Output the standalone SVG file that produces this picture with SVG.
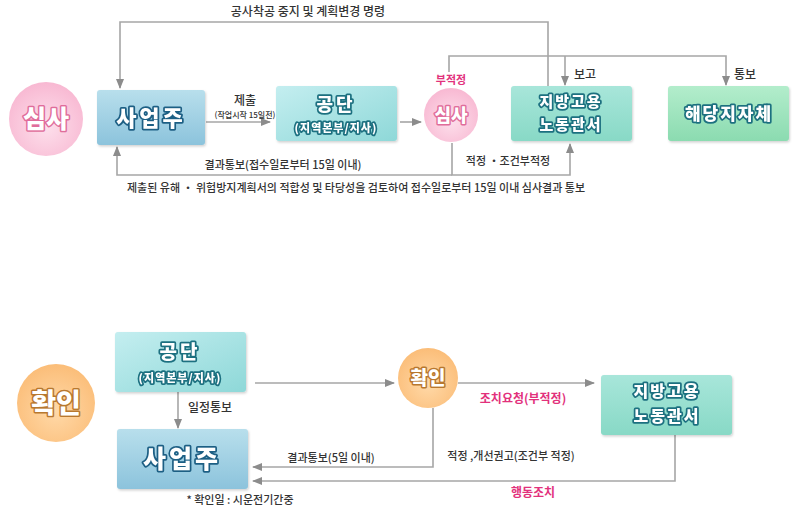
<svg xmlns="http://www.w3.org/2000/svg" width="800" height="519" viewBox="0 0 800 519">
<defs>
<linearGradient id="gBlue" x1="0" y1="0" x2="0" y2="1"><stop offset="0" stop-color="#b8dfec"/><stop offset="1" stop-color="#8cc3dc"/></linearGradient>
<linearGradient id="gTeal" x1="0" y1="0" x2="1" y2="1"><stop offset="0" stop-color="#c4eef0"/><stop offset="1" stop-color="#8ed8d8"/></linearGradient>
<linearGradient id="gMint" x1="0" y1="0" x2="0" y2="1"><stop offset="0" stop-color="#a8e6da"/><stop offset="1" stop-color="#88d9c6"/></linearGradient>
<linearGradient id="gGreen" x1="0" y1="0" x2="0" y2="1"><stop offset="0" stop-color="#b3edcc"/><stop offset="1" stop-color="#8bdbb0"/></linearGradient>
<radialGradient id="gPink" cx="0.5" cy="0.6" r="0.6"><stop offset="0" stop-color="#fde0ec"/><stop offset="1" stop-color="#f8b8d2"/></radialGradient>
<radialGradient id="gOrange" cx="0.5" cy="0.6" r="0.6"><stop offset="0" stop-color="#ffd9a8"/><stop offset="1" stop-color="#fbbd78"/></radialGradient>
<filter id="sh" x="-10%" y="-10%" width="125%" height="130%"><feDropShadow dx="1" dy="1.5" stdDeviation="1.2" flood-color="#000" flood-opacity="0.18"/></filter>
<marker id="ah" markerWidth="10" markerHeight="8" refX="9" refY="4" orient="auto" markerUnits="userSpaceOnUse"><path d="M0,0 L10,4 L0,8 z" fill="#8c8c8c"/></marker>
<style>
.ln{fill:none;stroke:#a6a6a6;stroke-width:1.6}
.lbl{font-family:"Noto Sans CJK KR","Noto Sans",sans-serif;font-size:11px;fill:#333;text-anchor:middle;font-weight:500}
.sm{font-size:8px}
.red{fill:#e2317c;font-weight:700}
.nt{font-family:"Noto Sans CJK KR","Noto Sans",sans-serif;font-weight:900;fill:#fff;text-anchor:middle;paint-order:stroke;stroke-linejoin:round}
.tb{stroke:#1e5f84;stroke-width:3.5}
.tt{stroke:#1d7080;stroke-width:3.5}
.tp{stroke:#e06d9b;stroke-width:3}
.to{stroke:#b8782f;stroke-width:3}
</style>
</defs>

<g id="connectors">
<path class="ln" d="M548,86 V22 H120 V88" marker-end="url(#ah)"/>
<path class="ln" d="M449,72 V56 H726 V85" marker-end="url(#ah)"/>
<path class="ln" d="M565,56 V85" marker-end="url(#ah)"/>
<path class="ln" d="M206,122 H270" marker-end="url(#ah)"/>
<path class="ln" d="M400,122 H421" marker-end="url(#ah)"/>
<path class="ln" d="M452,143 V175 H570 V144" marker-end="url(#ah)"/>
<path class="ln" d="M452,175 H117 V147" marker-end="url(#ah)"/>
<path class="ln" d="M178,392 V428" marker-end="url(#ah)"/>
<path class="ln" d="M255,383 H394" marker-end="url(#ah)"/>
<path class="ln" d="M458,383 H594" marker-end="url(#ah)"/>
<path class="ln" d="M433,408 V467 H253" marker-end="url(#ah)"/>
<path class="ln" d="M675,435 V481 H253" marker-end="url(#ah)"/>
</g>

<g id="labels">
<text class="lbl" x="308" y="16" style="font-size:12px">공사착공 중지 및 계획변경 명령</text>
<text class="lbl" x="245" y="105" style="font-size:12px">제출</text>
<text class="lbl sm" x="245" y="118">(작업시작 15일전)</text>
<text class="lbl red" x="451" y="84">부적정</text>
<text class="lbl" x="585" y="79" style="font-size:12px">보고</text>
<text class="lbl" x="745" y="79" style="font-size:12px">통보</text>
<text class="lbl" x="508" y="165">적정 ・조건부적정</text>
<text class="lbl" x="283" y="169">결과통보(접수일로부터 15일 이내)</text>
<text class="lbl" x="356" y="192">제출된 유해 ・ 위험방지계획서의 적합성 및 타당성을 검토하여 접수일로부터 15일 이내 심사결과 통보</text>
<text class="lbl" x="210" y="412" style="font-size:12px">일정통보</text>
<text class="lbl red" x="523" y="403" style="font-size:12px">조치요청(부적정)</text>
<text class="lbl" x="331" y="462">결과통보(5일 이내)</text>
<text class="lbl" x="511" y="460">적정 ,개선권고(조건부 적정)</text>
<text class="lbl red" x="533" y="497" style="font-size:12px">행동조치</text>
<text class="lbl" x="240" y="504">* 확인일 : 시운전기간중</text>
</g>

<g id="node-simsa-big">
<circle cx="46" cy="119" r="37" fill="url(#gPink)"/>
<text class="nt tp" x="46" y="128" font-size="25">심사</text>
</g>

<g id="node-saeopju-top" filter="url(#sh)">
<rect x="97" y="90" width="108" height="55" rx="3" fill="url(#gBlue)"/>
<text class="nt tb" x="151" y="126" font-size="22" letter-spacing="3">사업주</text>
</g>

<g id="node-gongdan-top" filter="url(#sh)">
<rect x="276" y="86" width="121" height="55" rx="3" fill="url(#gTeal)"/>
<text class="nt tt" x="336" y="111" font-size="18" letter-spacing="3">공단</text>
<text class="nt tt" x="336" y="132" font-size="11" stroke-width="2.5" letter-spacing="1">(지역본부/지사)</text>
</g>

<g id="node-simsa-small">
<circle cx="451" cy="115" r="27" fill="url(#gPink)"/>
<text class="nt tp" x="451" y="122" font-size="18">심사</text>
</g>

<g id="node-jibang-top" filter="url(#sh)">
<rect x="511" y="86" width="121" height="55" rx="3" fill="url(#gMint)"/>
<text class="nt tt" x="571" y="107" font-size="15" letter-spacing="2">지방고용</text>
<text class="nt tt" x="571" y="130" font-size="15" letter-spacing="2">노동관서</text>
</g>

<g id="node-jijache" filter="url(#sh)">
<rect x="668" y="86" width="121" height="55" rx="3" fill="url(#gGreen)"/>
<text class="nt tt" x="729" y="120" font-size="17" letter-spacing="2">해당지자체</text>
</g>

<g id="node-hwagin-big">
<circle cx="56" cy="403" r="39" fill="url(#gOrange)"/>
<text class="nt to" x="56" y="413" font-size="27">확인</text>
</g>

<g id="node-gongdan-bottom" filter="url(#sh)">
<rect x="115" y="332" width="131" height="60" rx="3" fill="url(#gTeal)"/>
<text class="nt tt" x="180" y="359" font-size="19" letter-spacing="3">공단</text>
<text class="nt tt" x="180" y="382" font-size="11" stroke-width="2.5" letter-spacing="1">(지역본부/지사)</text>
</g>

<g id="node-saeopju-bottom" filter="url(#sh)">
<rect x="117" y="429" width="131" height="60" rx="3" fill="url(#gBlue)"/>
<text class="nt tb" x="182" y="468" font-size="25" letter-spacing="3">사업주</text>
</g>

<g id="node-hwagin-small">
<circle cx="428" cy="378" r="30" fill="url(#gOrange)"/>
<text class="nt to" x="428" y="385" font-size="19">확인</text>
</g>

<g id="node-jibang-bottom" filter="url(#sh)">
<rect x="601" y="375" width="131" height="60" rx="3" fill="url(#gMint)"/>
<text class="nt tt" x="667" y="397" font-size="16" letter-spacing="2">지방고용</text>
<text class="nt tt" x="667" y="422" font-size="16" letter-spacing="2">노동관서</text>
</g>
</svg>
